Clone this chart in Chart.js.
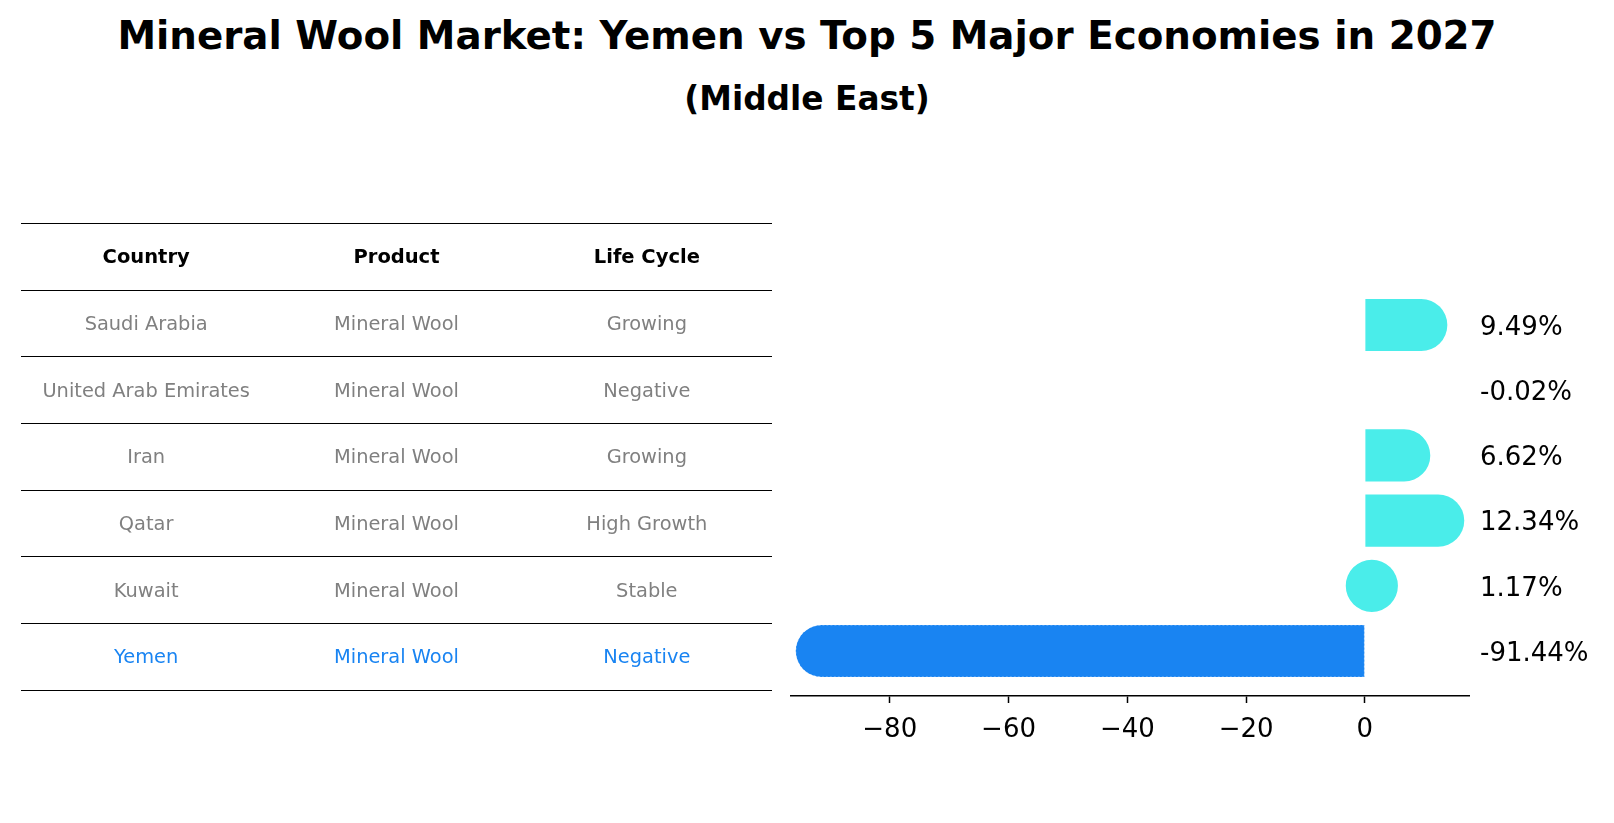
<!DOCTYPE html>
<html>
<head>
<meta charset="utf-8">
<script src="https://cdn.jsdelivr.net/npm/chart.js@4.4.1/dist/chart.umd.min.js"></script>
<style>
  html, body { margin: 0; padding: 0; background: #fff; }
  body { width: 1614px; height: 823px; position: relative; overflow: hidden; font-family: 'DejaVu Sans', sans-serif; }
  #title { position: absolute; left: 0; width: 1614px; top: 17px; text-align: center; font-weight: bold; font-size: 38.8px; line-height: 1; color: #000; }
  #subtitle { position: absolute; left: 0; width: 1614px; top: 83px; text-align: center; font-weight: bold; font-size: 32.8px; line-height: 1; color: #000; }
  #chartBox { position: absolute; left: 0; top: 0; width: 1614px; height: 823px; }
  #lifeTable { position: absolute; left: 21px; top: 223px; width: 751px; border-top: 1px solid #000; z-index: 2; }
  .row { display: flex; height: 66.7px; border-bottom: 1px solid #000; box-sizing: border-box; }
  .cell { flex: 1; display: flex; align-items: center; justify-content: center; font-size: 19.4px; color: #808080; }
  .head .cell { font-weight: bold; color: #000; font-size: 19.5px; }
</style>
</head>
<body>
<div id="title">Mineral Wool Market: Yemen vs Top 5 Major Economies in 2027</div>
<div id="subtitle">(Middle East)</div>
<div id="lifeTable"></div>
<div id="chartBox"><canvas id="chart1"></canvas></div>

<script>
// data
const countries = ['Saudi Arabia', 'United Arab Emirates', 'Iran', 'Qatar', 'Kuwait', 'Yemen'];
const products = ['Mineral Wool', 'Mineral Wool', 'Mineral Wool', 'Mineral Wool', 'Mineral Wool', 'Mineral Wool'];
const lifeCycles = ['Growing', 'Negative', 'Growing', 'High Growth', 'Stable', 'Negative'];
const growth = [9.49, -0.02, 6.62, 12.34, 1.17, -91.44];
const tableHeaders = ['Country', 'Product', 'Life Cycle'];
const focusCountry = 'Yemen';
const xTickStep = 20;

const cyan = '#4AEDEA';
const blue = '#1984F2';
const barFraction = 0.8;

// table on the left
let tableHtml = '<div class="row head">';
tableHeaders.forEach(function(h){ tableHtml += '<div class="cell">' + h + '</div>'; });
tableHtml += '</div>';
for(i = 0; i < countries.length; i++){
    let style = countries[i] == focusCountry ? ' style="color:' + blue + '"' : '';
    tableHtml += '<div class="row">' +
        '<div class="cell"' + style + '>' + countries[i] + '</div>' +
        '<div class="cell"' + style + '>' + products[i] + '</div>' +
        '<div class="cell"' + style + '>' + lifeCycles[i] + '</div>' +
        '</div>';
}
document.getElementById('lifeTable').innerHTML = tableHtml;

// axis limits like matplotlib: 5% margin around the data
let dMin = Math.min(0, ...growth);
let dMax = Math.max(0, ...growth);
let xMin = dMin - 0.05 * (dMax - dMin);
let xMax = dMax + 0.05 * (dMax - dMin);
let yLo = -barFraction / 2;
let yHi = countries.length - 1 + barFraction / 2;
let yMin = yLo - 0.05 * (yHi - yLo);
let yMax = yHi + 0.05 * (yHi - yLo);

// rounded caps sticking out past the value by half the bar height
const roundCaps = {
    id: 'roundCaps',
    afterDatasetsUpdate(chart){
        chart.getDatasetMeta(0).data.forEach(function(bar){
            let len = bar.x - bar.base;
            if(Math.abs(len) < 1){
                // practically zero, nothing to draw
                bar.base = bar.x;
                return;
            }
            let s = Math.sign(len);
            let r = bar.height / 2;
            bar.x += s * r;
            if(Math.abs(bar.x - bar.base) < 2 * r){
                bar.base = bar.x - s * 2 * r;
                bar.borderSkipped = {};
            }
        });
    }
};

// dotted outline on the highlighted bar
const focusOutline = {
    id: 'focusOutline',
    afterDatasetsDraw(chart){
        let idx = countries.indexOf(focusCountry);
        let bar = chart.getDatasetMeta(0).data[idx];
        if(!bar){
            return;
        }
        let ctx = chart.ctx;
        let left = Math.min(bar.x, bar.base);
        let right = Math.max(bar.x, bar.base);
        let top = bar.y - bar.height / 2;
        let h = bar.height;
        let r = h / 2;
        ctx.save();
        ctx.strokeStyle = 'rgba(255,255,255,0.55)';
        ctx.lineWidth = 1;
        ctx.setLineDash([2, 2]);
        ctx.beginPath();
        ctx.moveTo(right, top);
        ctx.lineTo(left + r, top);
        ctx.arc(left + r, top + r, r, -Math.PI / 2, Math.PI / 2, true);
        ctx.lineTo(right, top + h);
        ctx.lineTo(right, top);
        ctx.stroke();
        ctx.restore();
    }
};

// percentage labels right of the plot
const valueLabels = {
    id: 'valueLabels',
    afterDatasetsDraw(chart){
        let ctx = chart.ctx;
        let yScale = chart.scales.y;
        ctx.save();
        ctx.font = '26px "DejaVu Sans"';
        ctx.fillStyle = '#000';
        ctx.textAlign = 'left';
        ctx.textBaseline = 'middle';
        for(i = 0; i < growth.length; i++){
            ctx.fillText(growth[i].toFixed(2) + '%', chart.chartArea.right + 11, yScale.getPixelForValue(i) + 3);
        }
        ctx.restore();
    }
};

Chart.defaults.font.family = '"DejaVu Sans"';

let chart1Ctx = document.querySelector('canvas#chart1').getContext('2d');
let chart1 = new Chart(chart1Ctx, {
    type: 'bar',
    data: {
        datasets: [{
            data: growth.map(function(v, i){ return {x: v, y: i}; }),
            backgroundColor: countries.map(function(c){ return c == focusCountry ? blue : cyan; }),
            borderWidth: 0,
            borderRadius: 200,
            inflateAmount: 0,
            barPercentage: barFraction,
            categoryPercentage: 1
        }]
    },
    options: {
        indexAxis: 'y',
        responsive: true,
        maintainAspectRatio: false,
        animation: false,
        events: [],
        layout: {
            padding: {left: 791, right: 145, top: 280, bottom: 67}
        },
        plugins: {
            legend: {display: false},
            tooltip: {enabled: false},
            title: {display: false}
        },
        scales: {
            x: {
                type: 'linear',
                min: xMin,
                max: xMax,
                border: {display: true, color: '#000', width: 1.5},
                grid: {display: true, drawOnChartArea: false, drawTicks: true, tickLength: 7, tickColor: '#000', tickWidth: 1.5},
                ticks: {
                    stepSize: xTickStep,
                    includeBounds: false,
                    color: '#000',
                    padding: 12,
                    font: {size: 26},
                    callback: function(v){ return String(v).replace('-', '\u2212'); }
                },
                afterFit: function(s){ s.height = 60; }
            },
            y: {
                type: 'linear',
                display: false,
                offset: false,
                reverse: true,
                min: yMin,
                max: yMax,
                afterBuildTicks: function(s){
                    s.ticks = countries.map(function(c, i){ return {value: i}; });
                }
            }
        }
    },
    plugins: [roundCaps, focusOutline, valueLabels]
});
</script>
</body>
</html>
